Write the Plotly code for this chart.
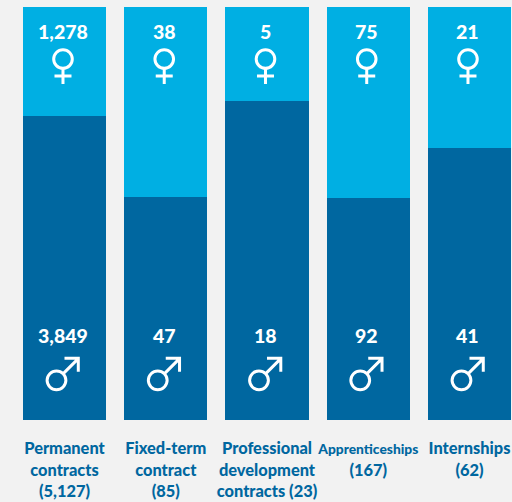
import plotly.graph_objects as go

categories = ["Permanent<br>contracts<br>(5,127)", "Fixed-term<br>contract<br>(85)",
              "Professional<br>development<br>contracts (23)", "Apprenticeships<br>(167)", "Internships<br>(62)"]
women_counts = ["1,278", "38", "5", "75", "21"]
men_counts = ["3,849", "47", "18", "92", "41"]
women_share = [26.4, 46.0, 22.8, 46.2, 34.1]
men_share = [73.6, 54.0, 77.2, 53.8, 65.9]

LIGHT = "#00afe3"
DARK = "#0067a0"
BG = "#f2f2f2"
xs = list(range(len(categories)))

def squeeze(label):
    # the long single word is set narrower in the reference
    head, _, tail = label.partition("<br>")
    if len(head) > 13 and "(" not in head:
        return f'<span style="font-size:13.8px">{head}</span><br>{tail}'
    return label

def ring(cx, cy, r):
    k = 0.5523 * r
    return (f"M {cx-r} {cy} C {cx-r} {cy+k} {cx-k} {cy+r} {cx} {cy+r} "
            f"C {cx+k} {cy+r} {cx+r} {cy+k} {cx+r} {cy} "
            f"C {cx+r} {cy-k} {cx+k} {cy-r} {cx} {cy-r} "
            f"C {cx-k} {cy-r} {cx-r} {cy-k} {cx-r} {cy} Z ")

fig = go.Figure()
fig.add_bar(x=xs, y=men_share, marker=dict(color=DARK, line_width=0), name="Men", hoverinfo="skip")
fig.add_bar(x=xs, y=women_share, marker=dict(color=LIGHT, line_width=0), name="Women", hoverinfo="skip")

FEMALE = ring(-1.5, 0, 9.3) + "M -1.5 -10 L -1.5 -25 M -10 -17 L 7 -17"
MALE = ring(-8, -9.5, 9.4) + "M -1.5 -3 L 13 11.5 M 0 12.5 L 13.8 12.5 L 13.8 -1"

annotations, shapes = [], []
for i in xs:
    for text, yv in ((women_counts[i], 94.15), (men_counts[i], 20.55)):
        annotations.append(dict(x=i, y=yv, xref="x", yref="y", text=text, showarrow=False,
                                xanchor="center", yanchor="middle", xshift=-1.5,
                                font=dict(family="Lato", size=19.5, color="white", weight=900)))
    shapes.append(dict(type="path", path=FEMALE, xref="x", yref="y", xsizemode="pixel", ysizemode="pixel",
                       xanchor=i, yanchor=87.4, line=dict(color="white", width=3)))
    shapes.append(dict(type="path", path=MALE, xref="x", yref="y", xsizemode="pixel", ysizemode="pixel",
                       xanchor=i, yanchor=11.9, line=dict(color="white", width=3)))

fig.update_layout(
    width=512, height=502, barmode="stack", bargap=0.18, showlegend=False,
    paper_bgcolor=BG, plot_bgcolor=BG,
    margin=dict(l=0, r=0, t=7, b=82),
    annotations=annotations, shapes=shapes,
    xaxis=dict(range=[-0.637, 4.42], tickmode="array", tickvals=xs, ticktext=[squeeze(c) for c in categories],
               showgrid=False, zeroline=False, showline=False, ticks="", ticklabelstandoff=17,
               automargin=False, tickangle=0,
               tickfont=dict(family="Lato", size=16.4, color=DARK, weight=900)),
    yaxis=dict(range=[0, 100], visible=False),
)
fig.write_html("out.html", config=dict(displayModeBar=False),
               post_script="document.body.style.margin='0';document.documentElement.style.background='#f2f2f2';")
